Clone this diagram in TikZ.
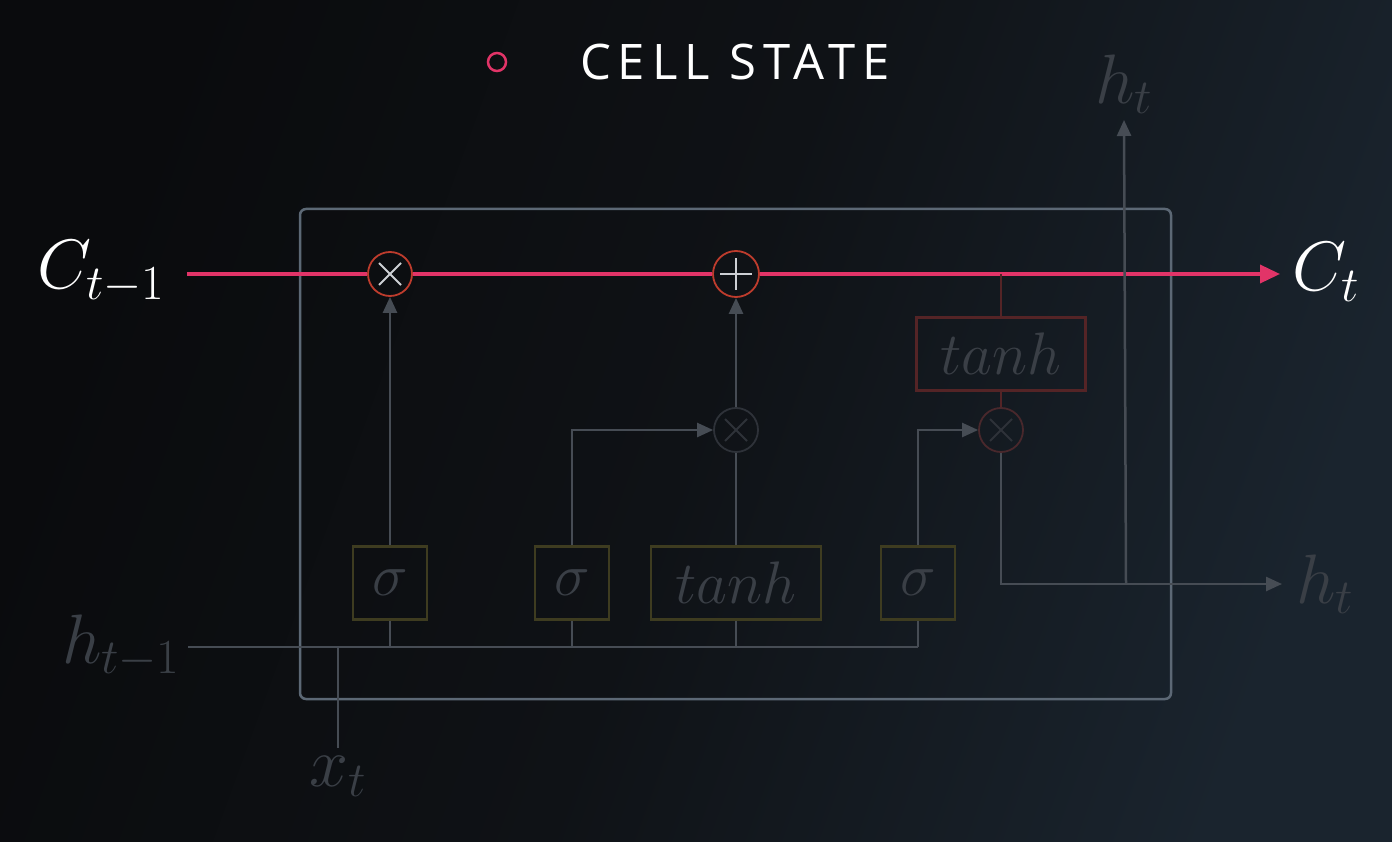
\RequirePackage{fix-cm}
\documentclass[tikz,border=0pt]{standalone}
\usepackage{fontspec}
\newfontfamily\legendfont[LetterSpace=14]{Open Sans}
\usetikzlibrary{calc,positioning,arrows.meta}
\definecolor{bgL}{RGB}{10,11,13}
\definecolor{bgM}{RGB}{15,18,22}
\definecolor{bgR}{RGB}{26,36,46}
\definecolor{pinkline}{RGB}{226,52,104}
\definecolor{ringred}{RGB}{190,60,45}
\definecolor{crossgray}{RGB}{205,208,212}
\definecolor{dimline}{RGB}{70,76,84}
\definecolor{dimtext}{RGB}{58,63,70}
\definecolor{cellbox}{RGB}{92,104,117}
\definecolor{olivebox}{RGB}{62,60,32}
\definecolor{darkred}{RGB}{84,36,38}
\definecolor{dimring}{RGB}{46,50,57}

\begin{document}
\begin{tikzpicture}[x=1pt,y=-1pt,
    wire/.style={draw=dimline, line width=2.5pt},
    arr/.style={-{Triangle[length=16pt,width=14pt]}},
    gate/.style={draw=olivebox, line width=2.5pt, minimum width=74pt, minimum height=73pt,
                 inner sep=0pt, text=dimtext, font=\fontsize{60}{60}\selectfont},
    mult/.style={circle, minimum size=44pt, inner sep=0pt, line width=1.8pt,
                 path picture={\draw[line width=2pt, #1]
                   ($(path picture bounding box.center)+(-11,-11)$) -- ($(path picture bounding box.center)+(11,11)$)
                   ($(path picture bounding box.center)+(-11,11)$) -- ($(path picture bounding box.center)+(11,-11)$);}},
    label/.style={font=\fontsize{70}{70}\selectfont, inner sep=0pt}]

% background
\shade[left color=bgL, right color=bgR, middle color=bgM, shading angle=70]
    (0,0) rectangle (1392,842);
\useasboundingbox (0,0) rectangle (1392,842);

% legend
\node[circle, draw=pinkline, line width=2.5pt, minimum size=18pt, inner sep=0pt] (dot) at (497,62) {};
\node[anchor=west, text=white, inner sep=0pt, font=\legendfont\fontsize{49}{49}\selectfont] (title) at (580,62) {CELL STATE};

% the cell
\draw[draw=cellbox, line width=2.5pt, rounded corners=6pt] (300,209) rectangle (1171,699);

% gates
\node[gate] (g1) at (390,583) {$\sigma$};
\node[gate] (g2) at (572,583) {$\sigma$};
\node[gate, minimum width=170pt] (g3) at (736,583) {$tanh$};
\node[gate] (g4) at (918,583) {$\sigma$};
\node[gate, draw=darkred, minimum width=169pt] (th) at (1001,354) {$tanh$};

% pointwise operations
\node[mult=crossgray, draw=ringred] (m1) at (390,274) {};
\node[circle, draw=ringred, minimum size=46pt, inner sep=0pt, line width=1.8pt,
      path picture={\draw[line width=2pt, crossgray]
        ($(path picture bounding box.center)+(-16,0)$) -- ($(path picture bounding box.center)+(16,0)$)
        ($(path picture bounding box.center)+(0,-16)$) -- ($(path picture bounding box.center)+(0,16)$);}] (add) at (736,274) {};
\node[mult=dimring, draw=dimring] (m2) at (736,430) {};
\node[mult=dimring, draw=darkred!70!dimring] (m3) at (1001,430) {};

% labels
\node[label, text=white] (cin) at (101,272) {$C_{t-1}$};
\node[label, text=white, anchor=west] (cout) at (1292,272) {$C_t$};
\node[label, text=dimtext] (hin) at (121,646) {$h_{t-1}$};
\node[label, text=dimtext, anchor=north] (xin) at (338,756) {$x_t$};
\node[label, text=dimtext, anchor=west] (hout) at (1296,584) {$h_t$};
\node[label, text=dimtext, anchor=south] (htop) at (1124,114) {$h_t$};
\coordinate (hbus) at (918,647);
\coordinate (split) at (1126,584);

% cell state
\draw[draw=pinkline, line width=3.5pt] ($(cin.east |- m1)+(22,0)$) -- (m1);
\draw[draw=pinkline, line width=3.5pt] (m1) -- (add);
\draw[draw=pinkline, line width=3.5pt, -{Triangle[length=20pt,width=18pt]}] (add) -- ($(cout.west |- add)+(-12,0)$);

% inputs
\draw[wire] ($(hin.east |- hbus)+(8,0)$) -- (hbus);
\draw[wire] (xin.north |- hbus) -- ($(xin.north)+(0,-8)$);
\foreach \g in {g1,g2,g3,g4} {
    \draw[wire] (\g) -- (\g |- hbus);
}

% gate outputs
\draw[wire, arr] (g1) -- (m1);
\draw[wire, arr] (g2.north) |- (m2);
\draw[wire] (g3) -- (m2);
\draw[wire, arr] (m2) -- (add);
\draw[wire, arr] (g4.north) |- (m3);
\draw[draw=darkred, line width=2.5pt] (th.north |- add) -- (th);
\draw[draw=darkred, line width=2.5pt] (th) -- (m3);
\draw[wire, arr] (m3) |- ($(hout.west)+(-14,0)$);
\draw[wire, arr] (split) -- ($(htop.south)+(0,6)$);

\end{tikzpicture}
\end{document}
